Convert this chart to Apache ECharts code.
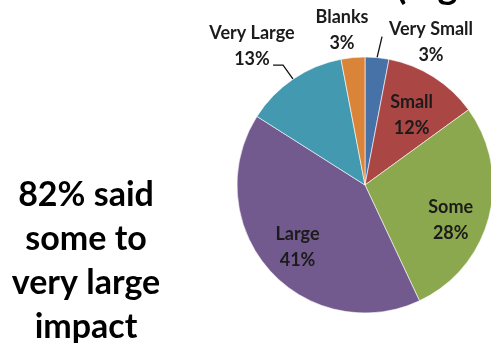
<!DOCTYPE html>
<html>
<head>
<meta charset="utf-8">
<script src="https://cdn.jsdelivr.net/npm/echarts@6/dist/echarts.min.js"></script>
<style>
    html, body { margin: 0; padding: 0; background: #fff; }
    #chart { width: 491px; height: 343px; }
</style>
</head>
<body>
<div id="chart"></div>
<script>
// pie data, clockwise from 12 o'clock
const categories = ['Very Small', 'Small', 'Some', 'Large', 'Very Large', 'Blanks']
const percents = [3, 12, 28, 41, 13, 3]
const sliceColors = ['#4672a8', '#aa4644', '#8ba84f', '#725a8e', '#4399af', '#da8439']
// labels drawn inside the slices vs outside with leader lines
const insideLabels = ['Small', 'Some', 'Large']
const outsideLabels = ['Very Small', 'Very Large', 'Blanks']
const sideNote = ['82% said', 'some to', 'very large', 'impact']

const FONT = 'Lato'
const center = [365, 185]
const R = 128

// where the outside labels sit (text centre) and how their leader line bends
const outsideLayout = {
    'Very Small': { x: 431, y: 42, bend: [[5, -21]] },
    'Blanks': { x: 342, y: 30, bend: null },
    'Very Large': { x: 252, y: 46, bend: [[-10, -14], [-20, -14]] }
}
// small nudges for the inside labels
const insideNudge = { 'Small': [-3, 8], 'Some': [-4, 12], 'Large': [2, 1] }

const labelText = p => p.name + '\n' + p.value + '%'

const chart = echarts.init(document.getElementById('chart'))

const option = {
    animation: false,
    color: sliceColors,
    series: [
        {
            // the visible pie, carries the outside labels
            type: 'pie',
            center: center,
            radius: R,
            startAngle: 90,
            clockwise: true,
            itemStyle: { borderColor: '#fff', borderWidth: 0.6 },
            emphasis: { disabled: true },
            data: categories.map((name, i) => {
                const outside = outsideLabels.includes(name)
                return {
                    name: name,
                    value: percents[i],
                    label: { show: outside },
                    labelLine: { show: outside && outsideLayout[name].bend != null }
                }
            }),
            label: {
                position: 'outside',
                formatter: labelText,
                fontFamily: FONT,
                fontWeight: 'bold',
                fontSize: 18,
                lineHeight: 26,
                color: '#1b1b1b',
                align: 'center'
            },
            labelLine: {
                length: 10,
                length2: 10,
                lineStyle: { color: '#111', width: 1.3 }
            },
            labelLayout: function (params) {
                const name = categories[params.dataIndex]
                const lay = outsideLayout[name]
                if (!lay) return {}
                const out = { x: lay.x, y: lay.y, align: 'center', verticalAlign: 'middle', hideOverlap: false }
                if (lay.bend && params.labelLinePoints) {
                    const p0 = params.labelLinePoints[0]
                    const pts = [p0]
                    lay.bend.forEach(d => pts.push([p0[0] + d[0], p0[1] + d[1]]))
                    out.labelLinePoints = pts
                }
                return out
            }
        },
        {
            // invisible, larger copy just to place the inside labels at ~0.7 R
            type: 'pie',
            center: center,
            radius: R * 1.4,
            startAngle: 90,
            clockwise: true,
            silent: true,
            z: 3,
            itemStyle: { color: 'rgba(0,0,0,0)' },
            emphasis: { disabled: true },
            labelLine: { show: false },
            data: categories.map((name, i) => ({
                name: name,
                value: percents[i],
                label: { show: insideLabels.includes(name) }
            })),
            label: {
                position: 'inside',
                formatter: labelText,
                fontFamily: FONT,
                fontWeight: 'bold',
                fontSize: 18,
                lineHeight: 26,
                color: '#1b1b1b',
                align: 'center'
            },
            labelLayout: function (params) {
                const n = insideNudge[categories[params.dataIndex]]
                return n ? { dx: n[0], dy: n[1] } : {}
            }
        }
    ],
    graphic: [
        {
            type: 'text',
            x: 86,
            y: 173,
            style: {
                text: sideNote.join('\n'),
                fontFamily: FONT,
                fontWeight: 'bold',
                fontSize: 34,
                lineHeight: 44,
                fill: '#000',
                align: 'center',
                verticalAlign: 'top'
            }
        },
        {
            // title cut off by the top edge, only descenders show
            type: 'text',
            x: 396,
            y: 6,
            style: {
                text: '(hig',
                fontFamily: FONT,
                fontWeight: 'bold',
                fontSize: 38,
                fill: '#000',
                align: 'left',
                verticalAlign: 'bottom'
            }
        }
    ]
}

chart.setOption(option)
</script>
</body>
</html>
